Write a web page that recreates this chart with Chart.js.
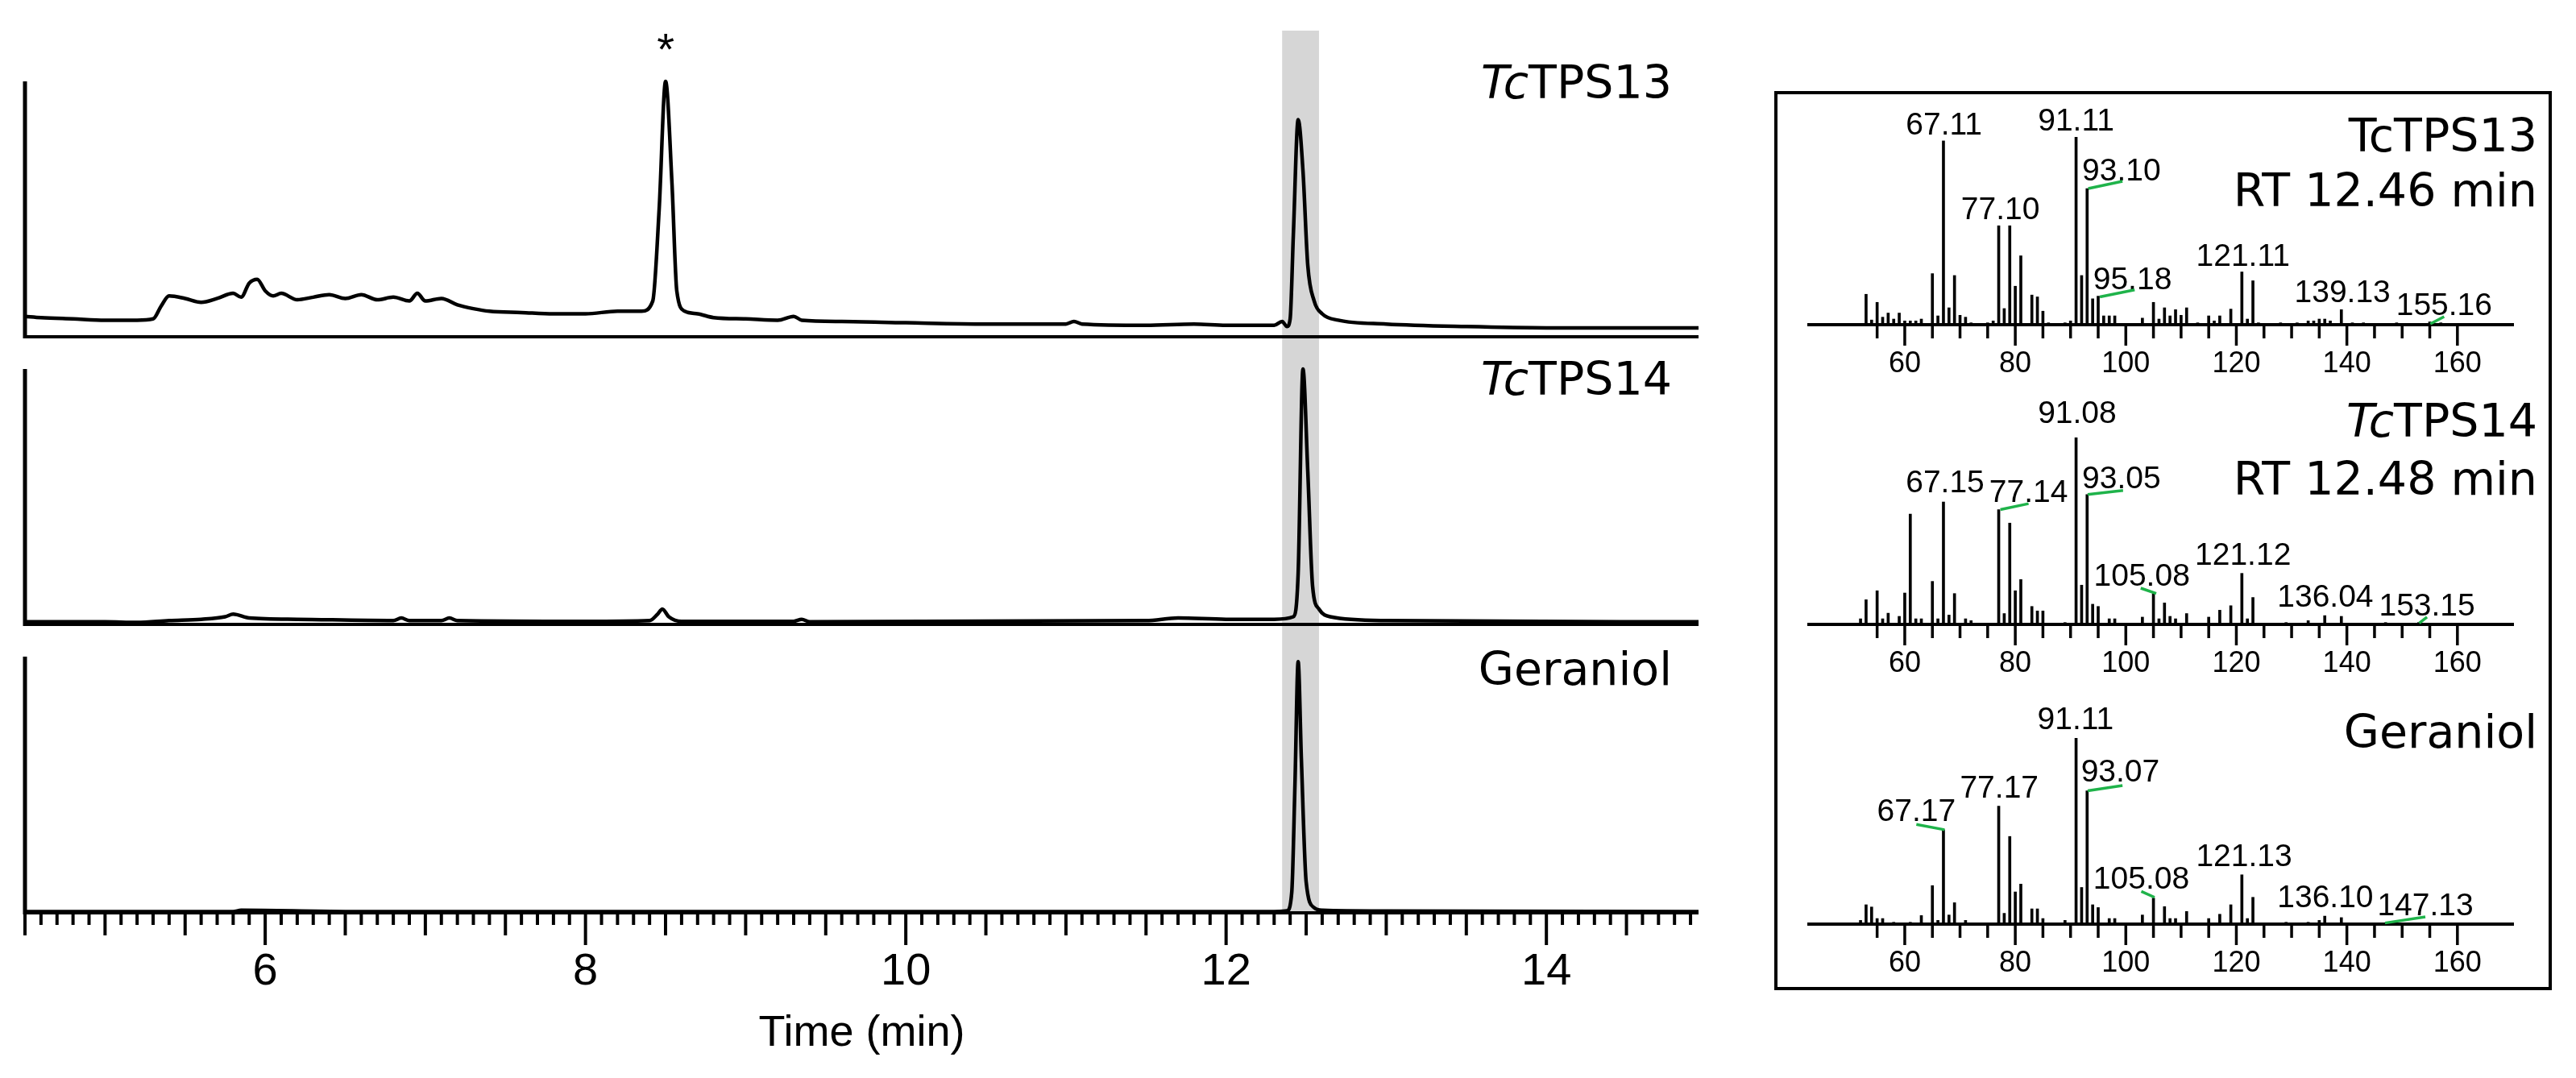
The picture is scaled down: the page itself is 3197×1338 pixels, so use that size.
<!DOCTYPE html>
<html><head><meta charset="utf-8">
<script src="https://cdn.jsdelivr.net/npm/chart.js@4.4.1/dist/chart.umd.min.js"></script>
<style>
html,body{margin:0;padding:0;background:#fff;width:3197px;height:1338px;overflow:hidden}
canvas{position:absolute}
#box{position:absolute;left:2202px;top:113px;width:957px;height:1108px;border:4px solid #000}
</style></head><body>
<div id="box"></div>
<canvas id="band" style="left:0;top:0" width="2200" height="1338"></canvas>
<canvas id="c1" style="left:0;top:0" width="2200" height="440"></canvas>
<canvas id="c2" style="left:0;top:440px" width="2200" height="350"></canvas>
<canvas id="c3" style="left:0;top:790px" width="2200" height="548"></canvas>
<canvas id="s1" style="left:2206px;top:117px" width="957" height="360"></canvas>
<canvas id="s2" style="left:2206px;top:480px" width="957" height="365"></canvas>
<canvas id="s3" style="left:2206px;top:850px" width="957" height="375"></canvas>
<script>
// ---------- chromatogram data (time min, relative intensity %) ----------
const tps13Time = [4.5,4.6,4.8,5.0,5.2,5.3,5.35,5.4,5.5,5.6,5.7,5.8,5.85,5.9,5.95,6.0,6.05,6.1,6.2,6.3,6.4,6.5,6.6,6.7,6.8,6.9,6.95,7.0,7.1,7.2,7.3,7.4,7.6,7.8,8.0,8.2,8.35,8.42,8.46,8.5,8.54,8.57,8.62,8.7,8.8,9.0,9.2,9.3,9.35,9.6,10.0,10.5,11.0,11.05,11.1,11.5,11.8,12.0,12.3,12.35,12.38,12.4,12.42,12.45,12.48,12.51,12.55,12.6,12.7,13.0,13.5,14.0,14.95];
const tps13Int  = [8,7.5,7,6.5,6.5,7,12,16,15,13.5,15,17,15.5,21,22.5,18,16,17,14.5,15.5,16.5,15,16.5,14.5,15.5,14,17,14,15,12.5,11,10,9.5,9,9,10,10,14,50,100,60,18,10,9,7.5,7,6.5,8,6.5,6,5.5,5,5,6,5,4.5,5,4.5,4.5,6,4,7,40,85,65,28,14,9,6.5,5,4,3.5,3.5];
const tps14Time = [4.5,5.0,5.2,5.4,5.6,5.75,5.8,5.9,6.2,6.8,6.85,6.9,7.1,7.15,7.2,8.0,8.4,8.45,8.48,8.52,8.6,9.3,9.35,9.4,11.5,11.7,12.0,12.3,12.42,12.45,12.48,12.51,12.54,12.58,12.65,13.0,14.95];
const tps14Int  = [1,1,0.8,1.5,2,3,4,2.5,2,1.5,2.5,1.5,1.5,2.5,1.5,1.2,1.5,4,6,3,1.2,1.2,2,1,1.5,2.5,2,2,3,20,100,60,15,6,3,1.5,1];
const gerTime = [4.5,5.5,5.8,5.85,6.5,8.5,10,12.3,12.38,12.41,12.43,12.45,12.47,12.5,12.55,12.6,13.0,14.95];
const gerInt  = [0.5,0.5,0.5,1,0.5,0.5,0.5,0.5,0.8,8,50,98,60,12,2,1,0.7,0.5];
const bandRange = [12.35, 12.58];
const timeTickLabels = ['6','8','10','12','14'];

// ---------- mass spectra (m/z, relative abundance %) ----------
const ms1Mz  = [53,54,55,56,57,58,59,60,61,62,63,65,66,67,68,69,70,71,72,75,76,77,78,79,80,81,83,84,85,86,89,90,91,92,93,94,95,96,97,98,103,105,106,107,108,109,110,111,113,115,116,117,119,121,122,123,124,128,131,133,134,135,136,137,139,141,143,149,155,157];
const ms1Int = [16.2,2.5,11.9,4,6.2,3,6.2,2,2,2,3,27.2,4.7,97.9,9,26.2,5,4,1,1,2,52.7,8.6,52.7,20.5,36.7,15.8,14.8,7.2,1,1,2,100,26.2,72.5,13.8,15.2,4.7,4.7,4.7,3.5,11.9,3,9,4.7,8,5,9,1,4.7,2,4.7,8.3,28.1,3,23.4,1,1,1,2,2,3,3,2,8,1,1,1,1.5,1];
const ms2Mz  = [52,53,55,56,57,59,60,61,62,63,65,66,67,68,69,71,72,77,78,79,80,81,83,84,85,89,91,92,93,94,95,97,98,103,105,106,107,108,109,111,115,117,119,121,122,123,129,133,136,139,147,153];
const ms2Int = [3,13.2,18,3,6,4.3,16.8,59,3,3,23,3,65.5,5,16.5,3,2,61.4,5.8,54.2,18,24,9.6,7.2,7.2,1,100,21,69.5,10.8,9.6,3,3,3.9,16.5,3,11.5,4.3,3,5.8,3.9,7.6,10,27.3,3,14.4,1,2,4.7,4.3,1,1];
const ms3Mz  = [52,53,54,55,56,58,61,63,65,66,67,68,69,71,77,78,79,80,81,83,84,85,89,91,92,93,94,95,97,98,103,105,107,108,109,111,115,117,119,121,122,123,129,133,135,136,139];
const ms3Int = [2,10.4,9.2,3,3,1,1,4.6,20.7,2,50.7,4.9,11.5,2,63.4,5.8,47.1,17.3,21.5,8.2,8.2,3,2,100,19.7,71.6,10.4,8.9,3,3,4.9,14,9.4,3,3,6.8,3,5.3,10.4,26.5,3,14.4,1,1,2,4.3,3.5];
const mzTickLabels = ['60','80','100','120','140','160'];

// peak annotations: [text, m/z of text centre, abundance of text baseline]
const ms1Labels = [['67.11',67.1,101.4],['77.10',77.3,56.3],['91.11',91.0,103.6],['93.10',99.2,77],['95.18',101.2,19],['121.11',121.2,31.5],['139.13',139.2,11.9],['155.16',157.6,5.2]];
const ms2Labels = [['67.15',67.3,70.5],['77.14',82.4,65.5],['91.08',91.2,107.6],['93.05',99.2,72.7],['105.08',102.9,20.9],['121.12',121.2,31.7],['136.04',136.1,9.4],['153.15',154.5,4.7]];
const ms3Labels = [['67.17',62.1,55.3],['77.17',77.1,68],['91.11',90.9,104.8],['93.07',99.0,76.7],['105.08',102.8,19],['121.13',121.4,31.3],['136.10',136.1,8.9],['147.13',154.2,4.6]];
// green leader lines: [mz1,ab1,mz2,ab2]
const ms1Leaders = [[93.2,72.5,99.4,76.4],[95.3,14.8,101.6,18.6],[155.1,0.4,157.6,4.3]];
const ms2Leaders = [[77.3,61.4,82.4,64.6],[93.1,69.5,99.5,71.7],[105.5,16.5,102.7,19.4],[153.1,0.7,154.5,3.9]];
const ms3Leaders = [[67.2,50.7,62.1,53.6],[93.1,71.6,99.4,74.5],[105.2,14.4,102.8,17.6],[146.9,0.6,154.2,3.9]];

// ---------- helpers ----------
Chart.defaults.devicePixelRatio = 1;
Chart.defaults.animation = false;
const T_MIN = 4.5, T_MAX = 14.95, MZ_MIN = 51.5, MZ_MAX = 161.1;
const TITLE_FONT = '57px "DejaVu Sans"';
const TITLE_IT = 'italic 57px "DejaVu Sans"';

function drawRich(ctx, parts, xRight, y){
  let w = 0; parts.forEach(p=>{ctx.font=p[1]; w+=ctx.measureText(p[0]).width;});
  let x = xRight - w; ctx.textAlign='left'; ctx.textBaseline='alphabetic'; ctx.fillStyle='#000';
  parts.forEach(p=>{ctx.font=p[1]; ctx.fillText(p[0],x,y); x+=ctx.measureText(p[0]).width;});
}

const decor = {id:'decor', afterDatasetsDraw(chart, args, opts){ if(opts && opts.fn) opts.fn(chart); }};
Chart.register(decor);

function chromChart(id, times, ints, pad, showTicks){
  const pts = times.map((t,i)=>({x:t,y:ints[i]}));
  return new Chart(document.getElementById(id), {
    type:'line',
    data:{datasets:[{data:pts, borderColor:'#000', borderWidth:4.5, pointRadius:0, tension:0.35, cubicInterpolationMode:'monotone', clip:false}]},
    options:{responsive:false, layout:{padding:pad},
      plugins:{legend:{display:false}, tooltip:{enabled:false},
        decor:{fn:(c)=>{
          const ctx=c.ctx, a=c.chartArea, xs=c.scales.x;
          ctx.save(); ctx.strokeStyle='#000'; ctx.lineCap='butt';
          ctx.lineWidth=5; ctx.beginPath(); ctx.moveTo(a.left,a.top); ctx.lineTo(a.left,a.bottom+2); ctx.stroke();
          ctx.lineWidth=4; ctx.beginPath(); ctx.moveTo(a.left-2,a.bottom); ctx.lineTo(a.right,a.bottom); ctx.stroke();
          if(showTicks){
            ctx.lineWidth=4;
            for(let k=45;k<=149;k++){
              const v=k/10, px=xs.getPixelForValue(v);
              let len = (k%20===0)?40:((k%5===0)?28:15);
              ctx.beginPath(); ctx.moveTo(px,a.bottom); ctx.lineTo(px,a.bottom+len); ctx.stroke();
            }
            ctx.fillStyle='#000'; ctx.font='56px "Liberation Sans"'; ctx.textAlign='center'; ctx.textBaseline='middle';
            timeTickLabels.forEach(l=>ctx.fillText(l, xs.getPixelForValue(+l), a.bottom+74));
            ctx.textBaseline='alphabetic'; ctx.font='54px "Liberation Sans"';
            ctx.fillText('Time (min)', (a.left+a.right)/2, a.bottom+165);
          }
          ctx.restore();
        }}},
      scales:{x:{type:'linear',min:T_MIN,max:T_MAX,display:false}, y:{min:0,max:100,display:false}}}
  });
}

new Chart(document.getElementById('band'), {
  type:'line', data:{datasets:[{data:[]}]},
  options:{responsive:false, layout:{padding:{left:31,right:92,top:38,bottom:205}},
    plugins:{legend:{display:false}, tooltip:{enabled:false},
      decor:{fn:(c)=>{
        const ctx=c.ctx, a=c.chartArea, xs=c.scales.x;
        ctx.save();
        ctx.fillStyle='#d6d6d6';
        const x1=xs.getPixelForValue(bandRange[0]), x2=xs.getPixelForValue(bandRange[1]);
        ctx.fillRect(x1, a.top, x2-x1, a.bottom-a.top);
        drawRich(ctx, [['Tc',TITLE_IT],['TPS13',TITLE_FONT]], 2075, 122);
        drawRich(ctx, [['Tc',TITLE_IT],['TPS14',TITLE_FONT]], 2075, 490);
        drawRich(ctx, [['Geraniol',TITLE_FONT]], 2075, 850);
        ctx.fillStyle='#000'; ctx.font='56px "Liberation Sans"'; ctx.textAlign='center';
        ctx.fillText('*', xs.getPixelForValue(8.5), 80);
        ctx.restore();
      }}},
    scales:{x:{type:'linear',min:T_MIN,max:T_MAX,display:false}, y:{min:0,max:1,display:false}}}
});

chromChart('c1', tps13Time, tps13Int, {left:31,right:92,top:101,bottom:22}, false);
chromChart('c2', tps14Time, tps14Int, {left:31,right:92,top:18,bottom:15}, false);
chromChart('c3', gerTime, gerInt, {left:31,right:92,top:25,bottom:205}, true);

function specChart(id, mz, ab, labels, leaders, pad, titleFn){
  const pts = mz.map((m,i)=>({x:m,y:ab[i]}));
  return new Chart(document.getElementById(id), {
    type:'bar',
    data:{datasets:[{data:pts, backgroundColor:'#000', barThickness:3, grouped:false}]},
    options:{responsive:false, layout:{padding:pad},
      plugins:{legend:{display:false}, tooltip:{enabled:false},
        decor:{fn:(c)=>{
          const ctx=c.ctx, a=c.chartArea, xs=c.scales.x, ys=c.scales.y;
          ctx.save(); ctx.strokeStyle='#000';
          ctx.lineWidth=4; ctx.beginPath(); ctx.moveTo(a.left,a.bottom); ctx.lineTo(a.right,a.bottom); ctx.stroke();
          ctx.lineWidth=3.5;
          for(let m=55;m<=160;m+=5){
            const px=xs.getPixelForValue(m), len=(m%20===0)?26:17;
            ctx.beginPath(); ctx.moveTo(px,a.bottom); ctx.lineTo(px,a.bottom+len); ctx.stroke();
          }
          ctx.fillStyle='#000'; ctx.font='36px "Liberation Sans"'; ctx.textAlign='center'; ctx.textBaseline='middle';
          mzTickLabels.forEach(l=>ctx.fillText(l, xs.getPixelForValue(+l), a.bottom+49));
          ctx.textBaseline='alphabetic'; ctx.font='39px "Liberation Sans"';
          labels.forEach(l=>ctx.fillText(l[0], xs.getPixelForValue(l[1]), ys.getPixelForValue(l[2])));
          ctx.strokeStyle='#1fb34a'; ctx.lineWidth=3.5;
          leaders.forEach(g=>{ctx.beginPath(); ctx.moveTo(xs.getPixelForValue(g[0]),ys.getPixelForValue(g[1])); ctx.lineTo(xs.getPixelForValue(g[2]),ys.getPixelForValue(g[3])); ctx.stroke();});
          titleFn(ctx, c.canvas.offsetTop);
          ctx.restore();
        }}},
      scales:{x:{type:'linear',min:MZ_MIN,max:MZ_MAX,display:false}, y:{min:0,max:100,display:false}}}
  });
}
const RX = 3149-2206;
specChart('s1', ms1Mz, ms1Int, ms1Labels, ms1Leaders, {left:37,right:43,top:53,bottom:74}, (ctx,top)=>{
  drawRich(ctx, [['TcTPS13',TITLE_FONT]], RX, 188-top);
  drawRich(ctx, [['RT 12.46 min',TITLE_FONT]], RX, 256-top);
});
specChart('s2', ms2Mz, ms2Int, ms2Labels, ms2Leaders, {left:37,right:43,top:63,bottom:70}, (ctx,top)=>{
  drawRich(ctx, [['Tc',TITLE_IT],['TPS14',TITLE_FONT]], RX, 542-top);
  drawRich(ctx, [['RT 12.48 min',TITLE_FONT]], RX, 614-top);
});
specChart('s3', ms3Mz, ms3Int, ms3Labels, ms3Leaders, {left:37,right:43,top:66,bottom:78}, (ctx,top)=>{
  drawRich(ctx, [['Geraniol',TITLE_FONT]], RX, 928-top);
});
</script></body></html>
